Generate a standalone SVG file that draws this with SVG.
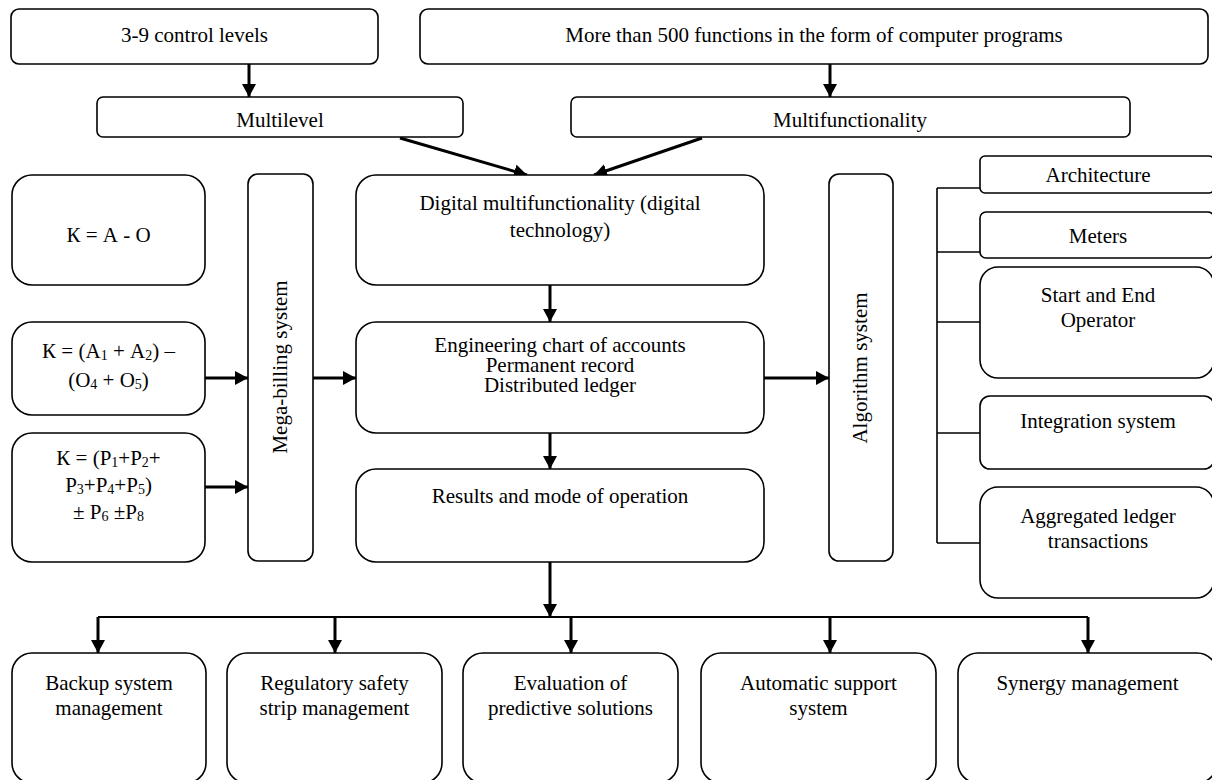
<svg xmlns="http://www.w3.org/2000/svg" width="1212" height="780" viewBox="0 0 1212 780">
  <style>
    .box { fill: #fff; stroke: #000; stroke-width: 1.6; }
    .t { font-family: 'Liberation Serif', 'Times New Roman', 'DejaVu Serif', serif; font-size: 21px; fill: #000; text-anchor: middle; }
    .sub { font-size: 14px; }
    .arrow { fill: none; stroke: #000; stroke-width: 3; marker-end: url(#head); }
    .line { fill: none; stroke: #000; stroke-width: 2.2; }
    .thin { fill: none; stroke: #000; stroke-width: 1.6; }
  </style>
  <defs>
    <marker id="head" markerUnits="userSpaceOnUse" markerWidth="14" markerHeight="14" refX="13" refY="7" orient="auto">
      <path d="M0,0 L13,7 L0,14 Z" fill="#000"/>
    </marker>
  </defs>
  <rect width="1212" height="780" fill="#fff"/>

  <!-- connectors -->
  <g id="connectors">
    <line class="arrow" x1="249" y1="64" x2="249" y2="97"/>
    <line class="arrow" x1="830" y1="64" x2="830" y2="97"/>
    <line class="arrow" x1="400" y1="138" x2="527" y2="175"/>
    <line class="arrow" x1="702" y1="138" x2="594" y2="175"/>
    <line class="arrow" x1="550" y1="285" x2="550" y2="322"/>
    <line class="arrow" x1="550" y1="433" x2="550" y2="469"/>
    <line class="arrow" x1="205" y1="378" x2="248" y2="378"/>
    <line class="arrow" x1="205" y1="487" x2="248" y2="487"/>
    <line class="arrow" x1="313" y1="378" x2="356" y2="378"/>
    <line class="arrow" x1="764" y1="378" x2="829" y2="378"/>
    <line class="arrow" x1="550" y1="562" x2="550" y2="617"/>
    <!-- distribution bus -->
    <polyline class="line" points="98,617 1088,617"/>
    <line class="arrow" x1="98" y1="617" x2="98" y2="653"/>
    <line class="arrow" x1="335" y1="617" x2="335" y2="653"/>
    <line class="arrow" x1="571" y1="617" x2="571" y2="653"/>
    <line class="arrow" x1="830" y1="617" x2="830" y2="653"/>
    <line class="arrow" x1="1088" y1="617" x2="1088" y2="653"/>
    <!-- component bracket -->
    <line class="thin" x1="937" y1="188" x2="937" y2="543"/>
    <line class="thin" x1="937" y1="188" x2="980" y2="188"/>
    <line class="thin" x1="937" y1="252" x2="980" y2="252"/>
    <line class="thin" x1="937" y1="322" x2="980" y2="322"/>
    <line class="thin" x1="937" y1="433" x2="980" y2="433"/>
    <line class="thin" x1="937" y1="543" x2="980" y2="543"/>
  </g>

  <g id="control-levels">
    <rect class="box" x="11" y="9" width="367" height="55" rx="8"/>
    <text class="t" x="194.5" y="42">3-9 control levels</text>
  </g>
  <g id="functions">
    <rect class="box" x="420" y="9" width="788" height="55" rx="8"/>
    <text class="t" x="814" y="42">More than 500 functions in the form of computer programs</text>
  </g>
  <g id="multilevel">
    <rect class="box" x="97" y="97" width="366" height="40" rx="6"/>
    <text class="t" x="280" y="127">Multilevel</text>
  </g>
  <g id="multifunctionality">
    <rect class="box" x="571" y="97" width="559" height="40" rx="6"/>
    <text class="t" x="850" y="127">Multifunctionality</text>
  </g>

  <g id="formula-1">
    <rect class="box" x="12" y="175" width="193" height="110" rx="20"/>
    <text class="t" x="108.5" y="242">К = А - О</text>
  </g>
  <g id="formula-2">
    <rect class="box" x="12" y="322" width="193" height="93" rx="20"/>
    <text class="t" x="108.5" y="358">К = (А<tspan class="sub" dy="2">1</tspan><tspan dy="-2"> + А</tspan><tspan class="sub" dy="2">2</tspan><tspan dy="-2">) –</tspan></text>
    <text class="t" x="108.5" y="387">(О<tspan class="sub" dy="2">4</tspan><tspan dy="-2"> + О</tspan><tspan class="sub" dy="2">5</tspan><tspan dy="-2">)</tspan></text>
  </g>
  <g id="formula-3">
    <rect class="box" x="12" y="433" width="193" height="129" rx="20"/>
    <text class="t" x="108.5" y="465">К = (Р<tspan class="sub" dy="2">1</tspan><tspan dy="-2">+Р</tspan><tspan class="sub" dy="2">2</tspan><tspan dy="-2">+</tspan></text>
    <text class="t" x="108.5" y="492">Р<tspan class="sub" dy="2">3</tspan><tspan dy="-2">+Р</tspan><tspan class="sub" dy="2">4</tspan><tspan dy="-2">+Р</tspan><tspan class="sub" dy="2">5</tspan><tspan dy="-2">)</tspan></text>
    <text class="t" x="108.5" y="519">± Р<tspan class="sub" dy="2">6</tspan><tspan dy="-2"> ±Р</tspan><tspan class="sub" dy="2">8</tspan></text>
  </g>

  <g id="mega-billing">
    <rect class="box" x="248" y="174" width="65" height="387" rx="10"/>
    <text class="t" transform="translate(287 367) rotate(-90)">Mega-billing system</text>
  </g>

  <g id="digital">
    <rect class="box" x="356" y="175" width="408" height="110" rx="20"/>
    <text class="t" x="560" y="210">Digital multifunctionality (digital</text>
    <text class="t" x="560" y="237">technology)</text>
  </g>
  <g id="engineering">
    <rect class="box" x="356" y="322" width="408" height="111" rx="20"/>
    <text class="t" x="560" y="352">Engineering chart of accounts</text>
    <text class="t" x="560" y="372">Permanent record</text>
    <text class="t" x="560" y="392">Distributed ledger</text>
  </g>
  <g id="results">
    <rect class="box" x="356" y="469" width="408" height="93" rx="20"/>
    <text class="t" x="560" y="503">Results and mode of operation</text>
  </g>

  <g id="algorithm">
    <rect class="box" x="829" y="174" width="64" height="387" rx="10"/>
    <text class="t" transform="translate(867 368) rotate(-90)">Algorithm system</text>
  </g>

  <g id="architecture">
    <rect class="box" x="980" y="156" width="234" height="37" rx="5"/>
    <text class="t" x="1098" y="182">Architecture</text>
  </g>
  <g id="meters">
    <rect class="box" x="980" y="212" width="234" height="46" rx="6"/>
    <text class="t" x="1098" y="243">Meters</text>
  </g>
  <g id="start-end">
    <rect class="box" x="980" y="267" width="234" height="111" rx="18"/>
    <text class="t" x="1098" y="302">Start and End</text>
    <text class="t" x="1098" y="327">Operator</text>
  </g>
  <g id="integration">
    <rect class="box" x="980" y="396" width="234" height="73" rx="10"/>
    <text class="t" x="1098" y="428">Integration system</text>
  </g>
  <g id="aggregated">
    <rect class="box" x="980" y="487" width="234" height="111" rx="18"/>
    <text class="t" x="1098" y="523">Aggregated ledger</text>
    <text class="t" x="1098" y="548">transactions</text>
  </g>

  <g id="backup">
    <rect class="box" x="12" y="653" width="194" height="130" rx="20"/>
    <text class="t" x="109" y="690">Backup system</text>
    <text class="t" x="109" y="715">management</text>
  </g>
  <g id="safety-strip">
    <rect class="box" x="227" y="653" width="215" height="130" rx="20"/>
    <text class="t" x="334.5" y="690">Regulatory safety</text>
    <text class="t" x="334.5" y="715">strip management</text>
  </g>
  <g id="predictive">
    <rect class="box" x="463" y="653" width="215" height="130" rx="20"/>
    <text class="t" x="570.5" y="690">Evaluation of</text>
    <text class="t" x="570.5" y="715">predictive solutions</text>
  </g>
  <g id="support">
    <rect class="box" x="701" y="653" width="235" height="130" rx="20"/>
    <text class="t" x="818.5" y="690">Automatic support</text>
    <text class="t" x="818.5" y="715">system</text>
  </g>
  <g id="synergy">
    <rect class="box" x="958" y="653" width="259" height="130" rx="20"/>
    <text class="t" x="1087.5" y="690">Synergy management</text>
  </g>
</svg>
